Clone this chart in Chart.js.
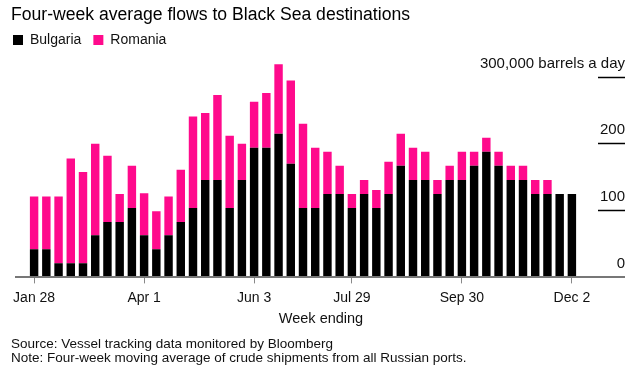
<!DOCTYPE html>
<html>
<head>
<meta charset="utf-8">
<script src="https://cdn.jsdelivr.net/npm/chart.js@4.4.1/dist/chart.umd.min.js"></script>
<style>
  html, body { margin: 0; padding: 0; background: #fff; }
  #wrap { position: relative; width: 636px; height: 373px; overflow: hidden; font-family: "Liberation Sans", Arial, sans-serif; color: #111; }
  #c { position: absolute; left: 0; top: 0; }
  .txt { position: absolute; white-space: nowrap; }
  #title { left: 11px; top: 3px; font-size: 17.6px; line-height: 22px; color: #000; }
  #xtitle { left: 221px; width: 200px; text-align: center; top: 310px; font-size: 14.5px; line-height: 17px; }
  #notes { left: 11px; top: 337px; font-size: 13.5px; line-height: 14px; }
</style>
</head>
<body>
<div id="wrap">
  <canvas id="c" width="636" height="373"></canvas>
  <div class="txt" id="title">Four-week average flows to Black Sea destinations</div>
  <div class="txt" id="xtitle">Week ending</div>
  <div class="txt" id="notes">Source: Vessel tracking data monitored by Bloomberg<br>Note: Four-week moving average of crude shipments from all Russian ports.</div>
</div>
<script>
// Week-ending categories
const categories = ['Jan 28','Feb 4','Feb 11','Feb 18','Feb 25','Mar 4','Mar 11','Mar 18','Mar 25','Apr 1',
  'Apr 8','Apr 15','Apr 22','Apr 29','May 6','May 13','May 20','May 27','Jun 3','Jun 10',
  'Jun 17','Jun 24','Jul 1','Jul 8','Jul 15','Jul 22','Jul 29','Aug 5','Aug 12','Aug 19',
  'Aug 26','Sep 2','Sep 9','Sep 16','Sep 23','Sep 30','Oct 7','Oct 14','Oct 21','Oct 28',
  'Nov 4','Nov 11','Nov 18','Nov 25','Dec 2'];

// Thousand barrels a day
const bulgaria = [42,42,21,21,21,63,83,83,104,63,42,63,83,104,146,146,104,146,194,194,
  215,170,104,104,125,125,104,125,104,125,167,146,146,125,146,146,167,188,167,146,
  146,125,125,125,125];
const romania = [79,79,100,157,137,137,99,42,63,63,57,58,78,137,100,127,108,54,69,82,
  104,125,126,90,63,42,21,21,27,48,48,48,42,21,21,42,21,21,21,21,
  21,21,21,0,0];

const xTickLabels = ['Jan 28','Apr 1','Jun 3','Jul 29','Sep 30','Dec 2'];
const yTickValues = [0,100,200,300];
const yTickLabels = ['0','100','200','300,000 barrels a day'];

const FONT = '"Liberation Sans", Arial, sans-serif';

const baselinePlugin = {
  id: 'baseline',
  afterDatasetsDraw(chart) {
    const y = chart.scales.y.getPixelForValue(0);
    const ctx = chart.ctx;
    ctx.save();
    ctx.strokeStyle = '#777';
    ctx.lineWidth = 2;
    ctx.beginPath();
    ctx.moveTo(15, y - 0.5);
    ctx.lineTo(625, y - 0.5);
    ctx.stroke();
    ctx.restore();
  }
};

new Chart(document.getElementById('c'), {
  type: 'bar',
  data: {
    labels: categories,
    datasets: [
      { label: 'Bulgaria', data: bulgaria, backgroundColor: '#000000', borderWidth: 0,
        barPercentage: 0.69, categoryPercentage: 1.0 },
      { label: 'Romania', data: romania, backgroundColor: '#ff0a8c', borderWidth: 0,
        barPercentage: 0.69, categoryPercentage: 1.0 }
    ]
  },
  options: {
    responsive: false,
    animation: false,
    devicePixelRatio: 1,
    layout: { padding: { left: 1, right: 11, top: 21, bottom: 60.8 } },
    plugins: {
      title: { display: false },
      tooltip: { enabled: false },
      legend: {
        display: true,
        position: 'top',
        align: 'start',
        labels: {
          boxWidth: 10, boxHeight: 10, padding: 12,
          color: '#111',
          font: { family: FONT, size: 14 }
        }
      }
    },
    scales: {
      x: {
        stacked: true,
        offset: true,
        grid: { display: true, drawOnChartArea: false, offset: false, drawTicks: true,
                tickLength: 6, tickColor: '#888', tickWidth: 1 },
        border: { display: false },
        afterBuildTicks: (s) => { s.ticks = s.ticks.filter(t => xTickLabels.includes(categories[t.value])); },
        ticks: {
          autoSkip: false, maxRotation: 0, minRotation: 0, padding: 6,
          color: '#111', font: { family: FONT, size: 14 },
          callback: (v) => categories[v]
        }
      },
      y: {
        stacked: true,
        position: 'right',
        weight: 10,
        min: 0,
        max: 330,
        afterBuildTicks: (s) => { s.ticks = yTickValues.map(v => ({ value: v })); },
        afterFit: (s) => { s.width = 27; },
        grid: { display: true, drawOnChartArea: false, drawTicks: true, tickLength: 27, tickWidth: 1.5,
                tickColor: (ctx) => (ctx.tick && ctx.tick.value === 0) ? 'rgba(0,0,0,0)' : '#000' },
        border: { display: false },
        ticks: {
          mirror: true, crossAlign: 'near', padding: 27, labelOffset: -13.5, autoSkip: false,
          color: '#111', font: { family: FONT, size: 15 },
          callback: (v) => yTickLabels[yTickValues.indexOf(v)]
        }
      },
      ySpacer: {
        axis: 'y',
        type: 'linear',
        position: 'right',
        weight: 0,
        display: true,
        afterFit: (s) => { s.width = 20; },
        grid: { display: false, drawTicks: false },
        border: { display: false },
        ticks: { display: false }
      },
      yLeft: {
        axis: 'y',
        type: 'linear',
        position: 'left',
        display: true,
        afterFit: (s) => { s.width = 27; },
        grid: { display: false, drawTicks: false },
        border: { display: false },
        ticks: { display: false }
      }
    }
  },
  plugins: [baselinePlugin]
});
</script>
</body>
</html>
